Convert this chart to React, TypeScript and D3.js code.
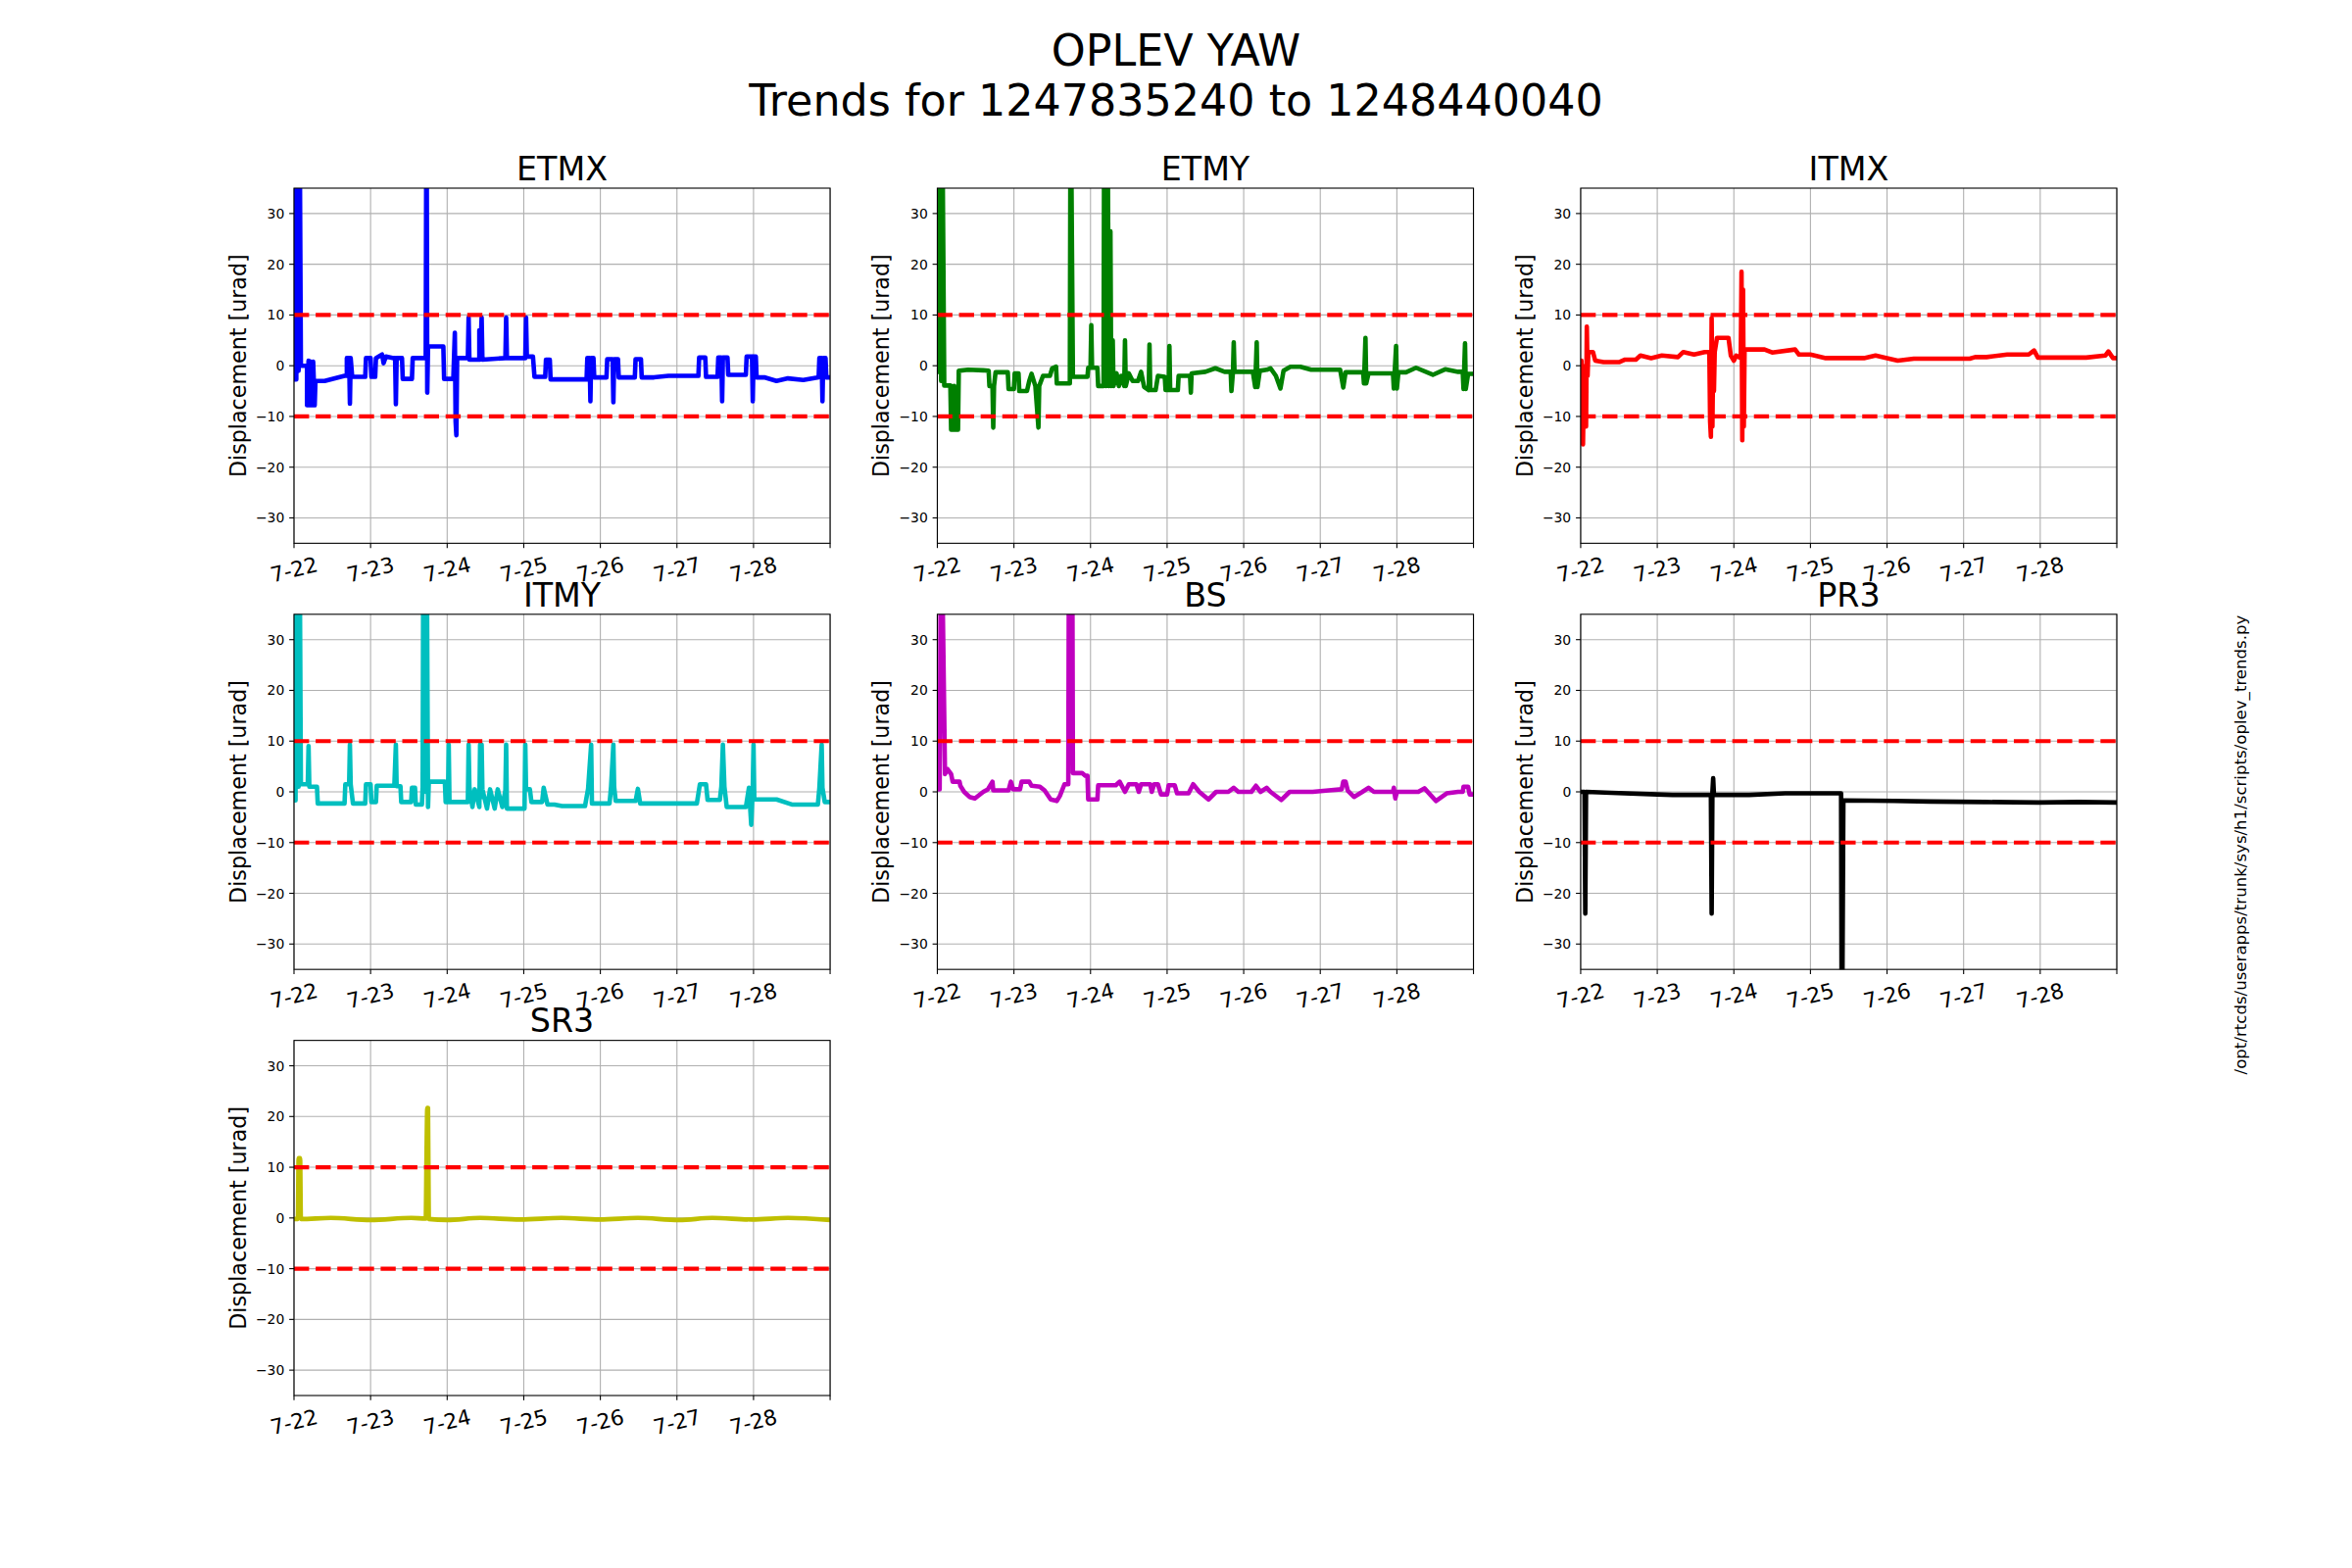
import React from 'react';
import * as d3 from 'd3';

type Pt = [number, number];

const panelNames = ['ETMX', 'ETMY', 'ITMX', 'ITMY', 'BS', 'PR3', 'SR3'];
const panelColors = ['#0000ff', '#008000', '#ff0000', '#00bfbf', '#bf00bf', '#000000', '#bfbf00'];
const dayTicks = [0, 1, 2, 3, 4, 5, 6, 7];
const dayTickLabels = ['7-22', '7-23', '7-24', '7-25', '7-26', '7-27', '7-28', ''];
const yTicks = [-30, -20, -10, 0, 10, 20, 30];
const thresholds = [10, -10];
const suptitleLines = ['OPLEV YAW', 'Trends for 1247835240 to 1248440040'];
const yLabel = 'Displacement [urad]';
const scriptPath = '/opt/rtcds/userapps/trunk/sys/h1/scripts/oplev_trends.py';

const etmx: Pt[] = [[0,-2.7],[0.03,-2.7],[0.03,60],[0.06,-1],[0.07,60],[0.09,0],[0.17,0],[0.17,-7.8],[0.19,1],[0.2,-7.8],[0.22,0.8],[0.23,-7.8],[0.25,0.8],[0.27,-7.8],[0.28,-3],[0.4,-3],[0.66,-2],[0.69,-2],[0.69,1.5],[0.72,1.5],[0.73,-7.5],[0.74,1.5],[0.76,-2.2],[0.93,-2.2],[0.94,1.5],[1.0,1.5],[1.01,-2.2],[1.06,-2.2],[1.07,1.5],[1.15,2.2],[1.17,0.5],[1.2,1.8],[1.3,1.5],[1.32,1.5],[1.33,-7.6],[1.34,1.5],[1.41,1.5],[1.42,-2.6],[1.54,-2.6],[1.55,1.5],[1.72,1.5],[1.73,60],[1.74,-5.3],[1.75,3.8],[1.95,3.8],[1.96,-2.6],[2.08,-2.6],[2.1,6.5],[2.11,-11],[2.12,-13.7],[2.13,1.5],[2.27,1.5],[2.28,9.5],[2.29,1.2],[2.42,1.2],[2.42,7],[2.43,1.2],[2.45,9.5],[2.46,1.2],[2.76,1.5],[2.77,9.5],[2.78,1.5],[3.02,1.5],[3.03,9.5],[3.04,1.8],[3.12,1.8],[3.14,-2.2],[3.28,-2.2],[3.29,1.2],[3.34,1.2],[3.35,-2.7],[3.82,-2.7],[3.83,1.5],[3.86,1.5],[3.87,-7],[3.88,1.5],[3.91,1.5],[3.92,-2.3],[4.08,-2.3],[4.09,1.3],[4.16,1.3],[4.17,-7.2],[4.18,1.3],[4.23,1.3],[4.24,-2.3],[4.45,-2.3],[4.46,1.3],[4.53,1.3],[4.54,-2.3],[4.7,-2.3],[4.89,-2.0],[5.28,-2.0],[5.29,1.6],[5.37,1.6],[5.38,-2.2],[5.53,-2.2],[5.54,1.6],[5.58,1.6],[5.59,-7],[5.6,1.6],[5.66,1.6],[5.67,-1.8],[5.9,-1.8],[5.91,1.8],[5.98,1.8],[5.99,-7],[6.0,1.8],[6.03,1.8],[6.04,-2.3],[6.14,-2.3],[6.3,-3],[6.45,-2.5],[6.65,-2.8],[6.85,-2.3],[6.86,1.5],[6.89,1.5],[6.9,-7],[6.91,1.5],[6.94,1.5],[6.95,-2.3],[7,-2.3]];

const etmy: Pt[] = [[0,-1.2],[0.02,-1.2],[0.03,60],[0.05,-3],[0.06,60],[0.09,-3.9],[0.17,-3.9],[0.18,-12.6],[0.22,-12.6],[0.22,-4],[0.23,-12.6],[0.27,-12.6],[0.28,-1],[0.4,-0.8],[0.6,-0.9],[0.67,-1],[0.68,-4],[0.72,-4],[0.73,-12.2],[0.74,-4],[0.76,-1.3],[0.92,-1.3],[0.93,-4.6],[1.0,-4.6],[1.01,-1.5],[1.06,-1.5],[1.07,-5],[1.17,-5],[1.2,-3],[1.23,-1.6],[1.28,-4],[1.32,-12.2],[1.33,-4],[1.38,-2],[1.47,-2],[1.5,-0.5],[1.55,-0.2],[1.56,-3.5],[1.73,-3.5],[1.74,60],[1.77,-2.2],[1.96,-2.2],[1.97,-0.4],[2.0,-0.4],[2.01,8],[2.02,-0.4],[2.09,-0.4],[2.1,-4],[2.17,-4],[2.18,60],[2.2,-4],[2.22,60],[2.24,-4],[2.26,26.5],[2.27,-4],[2.29,5],[2.30,-4],[2.34,-1.5],[2.37,-4],[2.4,-2],[2.44,-4],[2.45,5],[2.46,-4],[2.5,-1.5],[2.55,-3],[2.62,-3],[2.66,-1.2],[2.7,-4.2],[2.76,-4.8],[2.77,4.2],[2.78,-4.8],[2.85,-4.8],[2.88,-2],[2.97,-2.2],[2.98,-4.8],[3.02,-4.8],[3.03,3.9],[3.04,-4.8],[3.14,-4.8],[3.15,-2],[3.3,-2],[3.31,-5.3],[3.32,-1.5],[3.5,-1.2],[3.63,-0.5],[3.75,-1.2],[3.83,-1.2],[3.84,-5],[3.86,-1.2],[3.87,4.6],[3.88,-1.2],[4.12,-1.2],[4.15,-4.2],[4.17,4.6],[4.18,-4.2],[4.21,-1],[4.3,-0.8],[4.35,-0.5],[4.42,-2],[4.48,-4.5],[4.52,-1],[4.61,-0.2],[4.74,-0.2],[4.88,-0.8],[5.26,-0.8],[5.3,-4.3],[5.33,-1.3],[5.56,-1.3],[5.57,-3.5],[5.59,5.5],[5.6,-3.5],[5.63,-1.5],[5.95,-1.5],[5.96,-4.5],[5.99,3.9],[6.0,-4.5],[6.02,-1.3],[6.12,-1.3],[6.25,-0.4],[6.47,-1.8],[6.63,-0.7],[6.8,-1.2],[6.86,-1.2],[6.87,-4.6],[6.89,4.4],[6.9,-4.6],[6.93,-1.6],[7,-1.6]];

const itmx: Pt[] = [[0,-4],[0.01,1],[0.02,-8],[0.03,-15.5],[0.04,-5],[0.05,-11],[0.06,0],[0.07,-12],[0.08,7.7],[0.09,-2],[0.1,2.7],[0.16,2.7],[0.19,1],[0.3,0.7],[0.5,0.7],[0.58,1.2],[0.72,1.2],[0.78,2],[0.92,1.5],[1.06,2],[1.27,1.7],[1.34,2.7],[1.48,2.2],[1.62,2.7],[1.68,2.7],[1.69,-11],[1.70,-14],[1.71,9.4],[1.72,-12],[1.73,2.7],[1.74,-5],[1.75,2.7],[1.78,5.5],[1.93,5.5],[1.96,2],[2.0,1],[2.03,2],[2.09,1.5],[2.1,18.5],[2.11,-14.7],[2.12,15],[2.13,-12],[2.14,3.2],[2.4,3.2],[2.5,2.6],[2.8,3.2],[2.85,2.2],[3.0,2.2],[3.2,1.5],[3.7,1.5],[3.85,2],[4.0,1.5],[4.14,1],[4.35,1.4],[5.08,1.4],[5.15,1.7],[5.3,1.7],[5.57,2.2],[5.85,2.2],[5.92,3],[5.97,1.6],[6.6,1.6],[6.85,2],[6.89,2.8],[6.95,1.5],[7,1.5]];

const itmy: Pt[] = [[0,-1.7],[0.02,-1.7],[0.03,60],[0.06,1],[0.07,60],[0.09,1.5],[0.18,1.5],[0.19,9],[0.2,1],[0.3,1],[0.31,-2.3],[0.66,-2.3],[0.67,1.5],[0.72,1.5],[0.73,9.3],[0.74,1.5],[0.77,-2.3],[0.93,-2.3],[0.94,1.5],[1.0,1.5],[1.01,-2],[1.07,-2],[1.08,1.2],[1.31,1.2],[1.33,9.3],[1.34,1.1],[1.39,1.1],[1.4,-2],[1.53,-2],[1.54,0.8],[1.58,0.8],[1.59,-2.5],[1.67,-2.5],[1.68,1],[1.69,60],[1.72,0],[1.73,60],[1.75,-3],[1.76,2],[1.97,2],[1.98,-2],[2.01,-2],[2.02,9.3],[2.03,-2],[2.27,-2],[2.28,9.3],[2.29,1],[2.33,-3],[2.36,0.5],[2.42,-3],[2.43,9.3],[2.44,-1],[2.45,9.3],[2.46,0.5],[2.52,-3.3],[2.56,0.5],[2.62,-3.3],[2.66,0.5],[2.72,-3],[2.76,0.3],[2.77,9.3],[2.78,-3.3],[2.9,-3.3],[3.01,-3.3],[3.02,9.3],[3.03,0.5],[3.08,0.5],[3.1,-2],[3.24,-2],[3.26,0.8],[3.31,-2.5],[3.4,-2.5],[3.5,-2.8],[3.8,-2.8],[3.84,0.6],[3.88,9.3],[3.89,-2.3],[4.12,-2.3],[4.14,1],[4.17,9.3],[4.18,1],[4.2,-1.8],[4.46,-1.8],[4.49,0.6],[4.52,-2.3],[5.26,-2.3],[5.3,1.5],[5.38,1.5],[5.4,-1.6],[5.56,-1.6],[5.58,1],[5.6,9.3],[5.62,1],[5.65,-3],[5.9,-3],[5.94,0.8],[5.97,-6.5],[5.99,0.8],[6.0,9.3],[6.01,-1.5],[6.3,-1.5],[6.5,-2.5],[6.84,-2.5],[6.86,0.8],[6.89,9.3],[6.9,0.8],[6.93,-2],[7,-2]];

const bs: Pt[] = [[0,0.5],[0.03,0.5],[0.05,60],[0.1,3.5],[0.13,4.5],[0.18,3.5],[0.2,2],[0.29,2],[0.3,1.2],[0.35,0],[0.42,-1],[0.49,-1.3],[0.6,0],[0.66,0.5],[0.72,2],[0.73,0.3],[0.93,0.3],[0.96,2],[0.99,0.5],[1.08,0.5],[1.1,2],[1.2,2],[1.23,1.2],[1.34,1],[1.4,0.3],[1.48,-1.5],[1.56,-1.8],[1.6,-0.8],[1.66,1.5],[1.71,1.5],[1.72,60],[1.76,60],[1.77,3.7],[1.89,3.7],[1.93,3.2],[1.96,3.2],[1.97,-1.5],[2.09,-1.5],[2.1,1.3],[2.33,1.3],[2.38,2],[2.45,0],[2.5,1.5],[2.6,1.5],[2.63,0],[2.66,1.5],[2.78,1.5],[2.8,0],[2.83,1.5],[2.88,1.5],[2.92,-0.5],[3.0,-0.5],[3.02,1.3],[3.1,1.3],[3.13,-0.3],[3.28,-0.3],[3.34,1.5],[3.42,0],[3.54,-1.5],[3.64,0],[3.8,0],[3.87,0.8],[3.93,0],[4.1,0],[4.16,1.2],[4.22,0],[4.3,0.8],[4.35,0],[4.49,-1.6],[4.6,0],[4.9,0],[5.11,0.3],[5.28,0.5],[5.3,2],[5.33,2],[5.36,0.2],[5.44,-1],[5.55,0],[5.63,0.8],[5.7,0],[5.95,0],[5.96,0.8],[5.98,-1.3],[6.0,0],[6.28,0],[6.36,0.7],[6.51,-1.8],[6.65,-0.3],[6.8,0],[6.86,0],[6.87,1],[6.93,1],[6.95,-0.5],[7,-0.5]];

const pr3: Pt[] = [[0,0],[0.05,0],[0.06,-24],[0.07,0],[0.4,-0.2],[1.0,-0.5],[1.2,-0.6],[1.7,-0.6],[1.71,-24],[1.72,0],[1.73,2.7],[1.74,-0.6],[2.2,-0.6],[2.67,-0.3],[3.38,-0.3],[3.4,-0.3],[3.41,-60],[3.43,-1.7],[4.09,-1.8],[4.56,-1.9],[5.27,-2.0],[5.98,-2.1],[6.5,-2.0],[7,-2.1]];

const sr3: Pt[] = [[0,-0.2],[0.05,-0.2],[0.06,11.8],[0.08,11.8],[0.09,-0.2],[0.48,0],[1.0,-0.4],[1.53,0],[1.72,-0.1],[1.73,11.9],[1.74,21.7],[1.75,21.7],[1.76,-0.2],[2.0,-0.4],[2.43,0],[2.95,-0.3],[3.49,0],[3.99,-0.3],[4.49,0],[5.03,-0.4],[5.46,0],[5.98,-0.3],[6.45,0],[7,-0.4]];

const panelData: Pt[][] = [etmx, etmy, itmx, itmy, bs, pr3, sr3];

const FIG_W = 2400;
const FIG_H = 1600;
const FONT = '"DejaVu Sans", sans-serif';

const gridLeft = 0.125 * FIG_W;
const gridRight = 0.9 * FIG_W;
const gridTop = (1 - 0.88) * FIG_H;
const gridBottom = (1 - 0.11) * FIG_H;
const nCols = 3;
const nRows = 3;
const wspace = 0.2;
const hspace = 0.2;
const axW = (gridRight - gridLeft) / (nCols + (nCols - 1) * wspace);
const axH = (gridBottom - gridTop) / (nRows + (nRows - 1) * hspace);

function Panel({ idx }: { idx: number }) {
  const col = idx % nCols;
  const row = Math.floor(idx / nCols);
  const x0 = gridLeft + col * axW * (1 + wspace);
  const y0 = gridTop + row * axH * (1 + hspace);
  const x = d3.scaleLinear().domain([0, 7]).range([x0, x0 + axW]);
  const y = d3.scaleLinear().domain([-35, 35]).range([y0 + axH, y0]);
  const curve = panelNames[idx] === 'SR3' ? d3.curveMonotoneX : d3.curveLinear;
  const line = d3.line<Pt>().x((d) => x(d[0])).y((d) => y(d[1])).curve(curve);
  const clipId = `clip-${idx}`;
  const tickLen = 4.86;
  const labY = y0 + axH + 27;
  return (
    <g>
      <defs>
        <clipPath id={clipId}>
          <rect x={x0} y={y0} width={axW} height={axH} />
        </clipPath>
      </defs>
      <rect x={x0} y={y0} width={axW} height={axH} fill="#ffffff" />
      <g stroke="#b0b0b0" strokeWidth={1.1}>
        {dayTicks.map((t) => (
          <line key={`gx${t}`} x1={x(t)} x2={x(t)} y1={y0} y2={y0 + axH} />
        ))}
        {yTicks.map((t) => (
          <line key={`gy${t}`} x1={x0} x2={x0 + axW} y1={y(t)} y2={y(t)} />
        ))}
      </g>
      <g clipPath={`url(#${clipId})`}>
        <path d={line(panelData[idx]) || ''} fill="none" stroke={panelColors[idx]} strokeWidth={4.6} strokeLinejoin="round" strokeLinecap="butt" />
        {thresholds.map((v) => (
          <line key={`th${v}`} x1={x0} x2={x0 + axW} y1={y(v)} y2={y(v)} stroke="#ff0000" strokeWidth={4.17} strokeDasharray="15.4 6.7" />
        ))}
      </g>
      <rect x={x0} y={y0} width={axW} height={axH} fill="none" stroke="#000" strokeWidth={1.1} />
      {yTicks.map((t) => (
        <g key={`yt${t}`}>
          <line x1={x0 - tickLen} x2={x0} y1={y(t)} y2={y(t)} stroke="#000" strokeWidth={1.1} />
          <text x={x0 - tickLen - 4.86} y={y(t)} textAnchor="end" dominantBaseline="central" fontSize={13.9} fontFamily={FONT} fill="#000">
            {t < 0 ? `\u2212${Math.abs(t)}` : `${t}`}
          </text>
        </g>
      ))}
      {dayTicks.map((t, i) => (
        <g key={`xt${t}`}>
          <line x1={x(t)} x2={x(t)} y1={y0 + axH} y2={y0 + axH + tickLen} stroke="#000" strokeWidth={1.1} />
          {dayTickLabels[i] ? (
            <text
              x={x(t)}
              y={labY}
              textAnchor="middle"
              dominantBaseline="central"
              fontSize={21.5}
              fontFamily={FONT}
              fill="#000"
              transform={`rotate(-14 ${x(t)} ${labY})`}
            >
              {dayTickLabels[i]}
            </text>
          ) : null}
        </g>
      ))}
      <text
        x={x0 - 57}
        y={y0 + axH / 2}
        textAnchor="middle"
        dominantBaseline="central"
        fontSize={22.2}
        fontFamily={FONT}
        fill="#000"
        transform={`rotate(-90 ${x0 - 57} ${y0 + axH / 2})`}
      >
        {yLabel}
      </text>
      <text x={x0 + axW / 2} y={y0 - 8.3} textAnchor="middle" fontSize={33.3} fontFamily={FONT} fill="#000">
        {panelNames[idx]}
      </text>
    </g>
  );
}

export default function App() {
  return (
    <svg
      width={FIG_W}
      height={FIG_H}
      viewBox={`0 0 ${FIG_W} ${FIG_H}`}
      style={{ position: 'absolute', left: 0, top: 0, background: '#ffffff' }}
    >
      <rect x={0} y={0} width={FIG_W} height={FIG_H} fill="#ffffff" />
      {suptitleLines.map((s, i) => (
        <text key={s} x={FIG_W / 2} y={67 + i * 51} textAnchor="middle" fontSize={44.4} fontFamily={FONT} fill="#000">
          {s}
        </text>
      ))}
      {panelNames.map((_, i) => (
        <Panel key={i} idx={i} />
      ))}
      <text
        x={2292}
        y={862}
        textAnchor="middle"
        fontSize={16.6}
        fontFamily={FONT}
        fill="#000"
        transform={`rotate(-90 2292 862)`}
      >
        {scriptPath}
      </text>
    </svg>
  );
}
